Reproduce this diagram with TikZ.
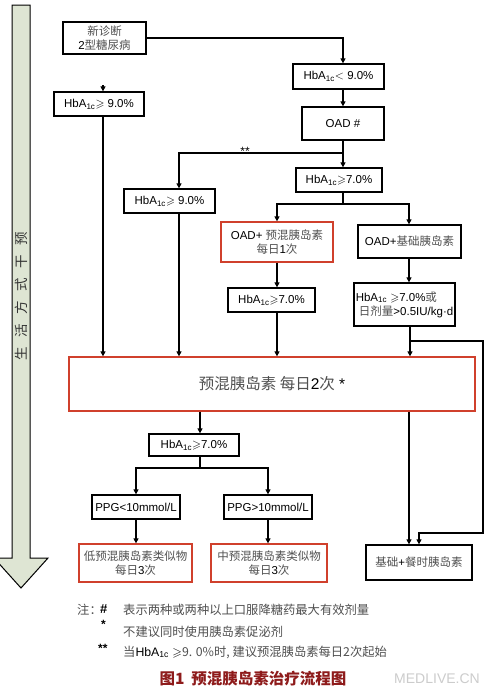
\documentclass[tikz,border=0pt]{standalone}
\usepackage{fontspec}
\usepackage{amssymb}
\setmainfont{Liberation Sans}
\newfontfamily\cjk{Noto Sans CJK SC}
\usetikzlibrary{arrows.meta,calc}
\definecolor{zhgray}{HTML}{505050}
\definecolor{boxred}{HTML}{D0402C}
\definecolor{lifegreen}{HTML}{DEE5D3}
\definecolor{titlered}{HTML}{8E1B1B}
\newcommand{\zh}[1]{{\cjk\color{zhgray}#1}}
\newcommand{\hba}{HbA\textsubscript{1c}}
\newcommand{\gq}{\ensuremath{\geqslant}}
\tikzset{
 box/.style={draw=black, line width=1.3pt, fill=white, inner sep=1pt, align=center, font=\fontsize{11.5}{14}\selectfont},
 redbox/.style={box, draw=boxred},
 arr/.style={line width=1.3pt, -{Triangle[length=5pt,width=5pt]}},
 ln/.style={line width=1.3pt},
 note/.style={anchor=west, inner sep=0pt, font=\fontsize{12.3}{14}\selectfont},
}
\begin{document}
\begin{tikzpicture}[x=1pt,y=-1pt]
\useasboundingbox[fill=white] (0,0) rectangle (500,696);
% lifestyle arrow
\draw[fill=lifegreen, line width=1pt] (12,5) -- (30,5) -- (30,558) -- (48,558) -- (21,588) -- (-6,558) -- (12,558) -- cycle;
\node[rotate=90, text=black!80, font=\cjk\fontsize{13.5}{13}\selectfont] (life) at (21,296) {生\hspace{9.5pt}活\hspace{9.5pt}方\hspace{9.5pt}式\hspace{9.5pt}干\hspace{9.5pt}预};
% columns
\coordinate (xA) at (103,0);
\coordinate (xB) at (179,0);
\coordinate (xM) at (343,0);
\coordinate (xC) at (277,0);
\coordinate (xD) at (409,0);
% boxes
\node[box, minimum width=83pt, minimum height=32pt] (dx) at (104.5,38) {\zh{新诊断}\\2\zh{型糖尿病}};
\node[box, minimum width=90pt, minimum height=24pt] (hb9a) at (99,104) {\hba\gq\ 9.0\%};
\node[box, minimum width=91pt, minimum height=25pt] (lt9) at (338.5,76.5) {\hba$<$ 9.0\%};
\node[box, minimum width=82pt, minimum height=33pt] (oad) at (343,123.5) {OAD \#};
\node[box, minimum width=86pt, minimum height=24pt] (hb7a) at (339,180) {\hba\gq7.0\%};
\node[box, minimum width=91pt, minimum height=24pt] (hb9b) at (169.5,201) {\hba\gq\ 9.0\%};
\node[redbox, minimum width=112pt, minimum height=40pt] (oadp) at (277,242) {OAD+ \zh{预混胰岛素}\\\zh{每日}1\zh{次}};
\node[box, minimum width=87pt, minimum height=24pt] (hb7b) at (271.5,300) {\hba\gq7.0\%};
\node[box, minimum width=103pt, minimum height=33pt] (oadb) at (409.5,241.5) {OAD+\zh{基础胰岛素}};
\node[box, minimum width=101pt, minimum height=43pt, align=left] (hb7c) at (404.5,304.5) {\hba\ \gq7.0\%\zh{或}\\\ \zh{日剂量}>0.5IU/kg·d};
\node[redbox, minimum width=406pt, minimum height=54pt, font=\fontsize{15.5}{18}\selectfont] (big) at (272,384) {\zh{预混胰岛素 每日}2\zh{次} *};
\node[box, minimum width=90pt, minimum height=22pt] (hb7d) at (194,445) {\hba\gq7.0\%};
\node[box, minimum width=88pt, minimum height=24pt] (ppg1) at (136,507) {PPG<10mmol/L};
\node[box, minimum width=88pt, minimum height=24pt] (ppg2) at (268,507) {PPG>10mmol/L};
\node[redbox, minimum width=113pt, minimum height=38pt] (r1) at (135.5,563) {\zh{低预混胰岛素类似物}\\\zh{每日}3\zh{次}};
\node[redbox, minimum width=116pt, minimum height=38pt] (r2) at (269,563) {\zh{中预混胰岛素类似物}\\\zh{每日}3\zh{次}};
\node[box, minimum width=106pt, minimum height=35pt] (bm) at (419,562.5) {\zh{基础}+\zh{餐时胰岛素}};
% connectors
\coordinate (topA) at (103,85);
\draw[arr] (topA) -- (hb9a.north -| xA);
\draw[arr] (dx.east) -| (lt9.north -| xM);
\draw[arr] (lt9.south -| xM) -- (oad.north -| xM);
\draw[arr] (oad.south -| xM) -- (hb7a.north -| xM);
\coordinate (br1) at (343,153);
\draw[arr] (br1) -| (hb9b.north -| xB);
\node[font=\fontsize{12}{12}\selectfont, inner sep=0pt] (stars) at (245,151) {**};
\draw[arr] (hb9a.south -| xA) -- (big.north -| xA);
\draw[arr] (hb9b.south -| xB) -- (big.north -| xB);
\coordinate (br2) at (343,204);
\draw[ln] (hb7a.south -| xM) -- (br2);
\draw[arr] (br2) -| (oadp.north -| xC);
\draw[arr] (br2) -| (oadb.north -| xD);
\draw[arr] (oadp.south -| xC) -- (hb7b.north -| xC);
\draw[arr] (hb7b.south -| xC) -- (big.north -| xC);
\draw[arr] (oadb.south -| xD) -- (hb7c.north -| xD);
\coordinate (xE) at (410,0);
\draw[arr] (hb7c.south -| xE) -- (big.north -| xE);
\coordinate (br3) at (410,341);
\coordinate (rc1) at (483,341);
\coordinate (rc2) at (483,533);
\coordinate (rc3) at (419,533);
\draw[arr] (br3) -- (rc1) -- (rc2) -- (rc3) -- (bm.north -| rc3);
\draw[arr] (big.south -| xD) -- (bm.north -| xD);
\coordinate (xF) at (200,0);
\draw[arr] (big.south -| xF) -- (hb7d.north -| xF);
\coordinate (br4) at (200,468);
\draw[ln] (hb7d.south -| xF) -- (br4);
\draw[arr] (br4) -| (ppg1.north);
\draw[arr] (br4) -| (ppg2.north);
\draw[arr] (ppg1.south) -- (r1.north -| ppg1.south);
\draw[arr] (ppg2.south) -- (r2.north -| ppg2.south);
% notes
\node[note] (n0) at (77,610) {\zh{注：}};
\node[note, font=\fontsize{13}{13}\bfseries] (n1s) at (100,609) {\#};
\node[note] (n1) at (123,610) {\zh{表示两种或两种以上口服降糖药最大有效剂量}};
\node[note, font=\fontsize{12}{12}\bfseries] (n2s) at (101,624) {*};
\node[note] (n2) at (123,632) {\zh{不建议同时使用胰岛素促泌剂}};
\node[note, font=\fontsize{12}{12}\bfseries] (n3s) at (98,648) {**};
\node[note] (n3) at (123,652) {\zh{当}\hba\ \gq\zh{9. 0\%时, 建议预混胰岛素每日2次起始}};
\node[font=\cjk\bfseries\fontsize{15.5}{16}\selectfont, text=titlered] (title) at (253,679) {图1\hspace{7pt}预混胰岛素治疗流程图};
\node[font=\fontsize{14}{14}\selectfont, text=black!20] (wm) at (437,679) {MEDLIVE.CN};
\end{tikzpicture}
\end{document}
